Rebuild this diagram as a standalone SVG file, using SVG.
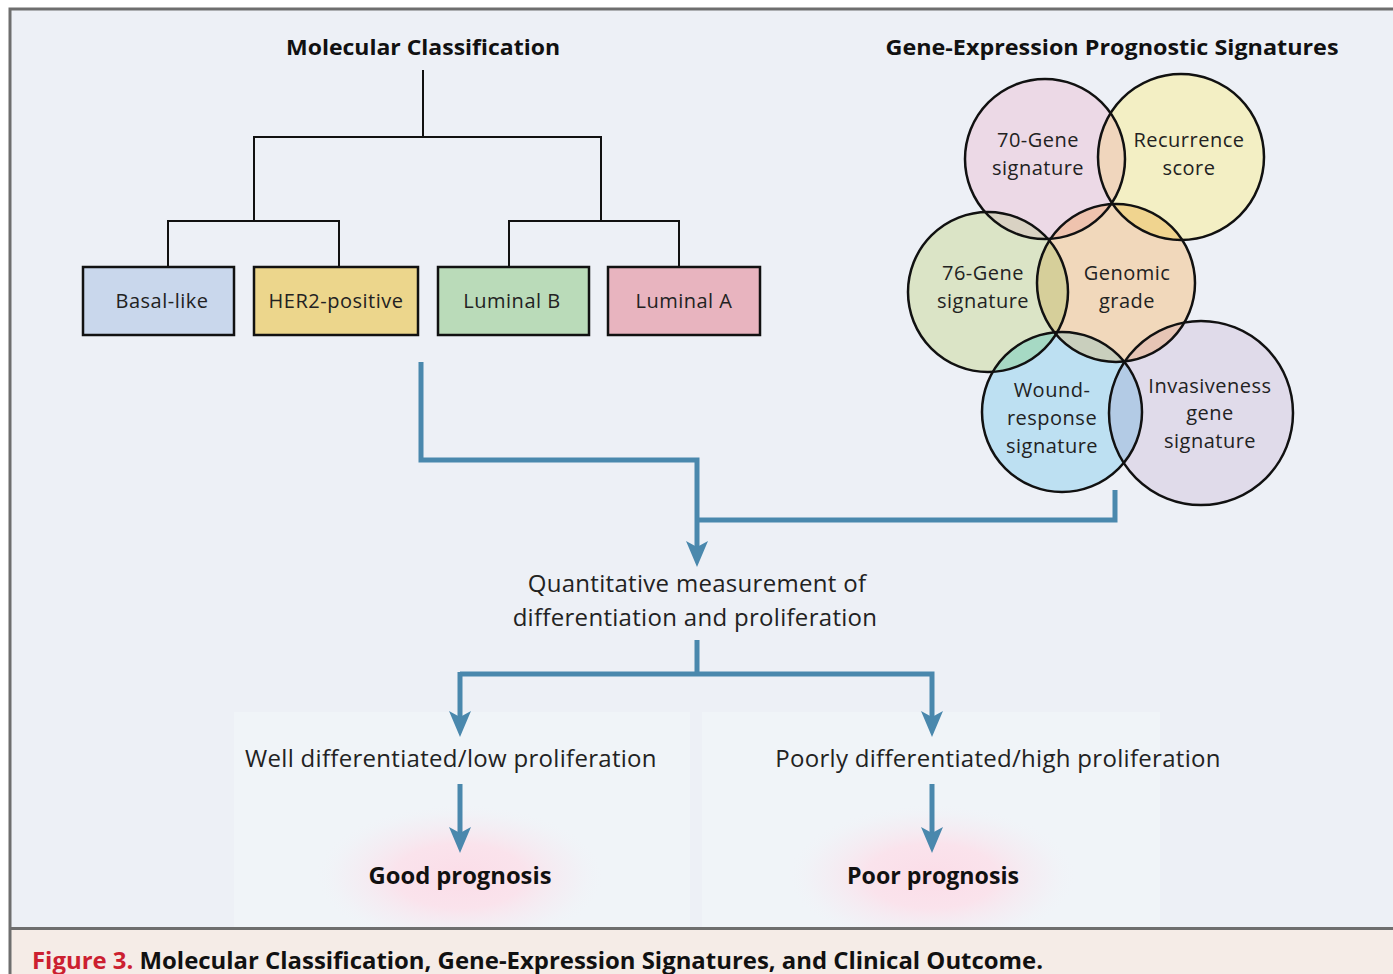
<svg xmlns="http://www.w3.org/2000/svg" width="1393" height="974" viewBox="0 0 1393 974">
<style>
.t{font-family:"Open Sans","DejaVu Sans",sans-serif;font-size:20px;fill:#222;text-anchor:middle;letter-spacing:0.5px}
.m{font-family:"Open Sans","DejaVu Sans",sans-serif;font-size:24px;fill:#222;text-anchor:middle;letter-spacing:0.3px}
.b{font-family:"Open Sans","DejaVu Sans",sans-serif;font-size:22px;font-weight:bold;fill:#111;text-anchor:middle}
.tree{fill:none;stroke:#111;stroke-width:2}
.box{stroke:#111;stroke-width:2.5}
.ring{fill:none;stroke:#111;stroke-width:2.5}
.flow{fill:none;stroke:#4a88ad;stroke-width:5;marker-end:url(#ah)}
.flown{fill:none;stroke:#4a88ad;stroke-width:5}
</style>
<defs>
<marker id="ah" markerUnits="userSpaceOnUse" viewBox="-38 -12 40 24" refX="-13" refY="0" markerWidth="40" markerHeight="24" orient="auto">
<path d="M0,0 L-26,-11 L-20,0 L-26,11 Z" fill="#4a88ad"/>
</marker>
<radialGradient id="glow" cx="50%" cy="50%" r="50%">
<stop offset="0" stop-color="#fbdde8"/>
<stop offset="0.45" stop-color="#fae3ec"/>
<stop offset="0.8" stop-color="#f3eef4" stop-opacity="0.6"/>
<stop offset="1" stop-color="#f0f4f8" stop-opacity="0"/>
</radialGradient>
<clipPath id="c70"><circle cx="1045" cy="159" r="80"/></clipPath>
<clipPath id="crec"><circle cx="1181" cy="157" r="83"/></clipPath>
<clipPath id="c76"><circle cx="988" cy="292" r="80"/></clipPath>
<clipPath id="cgen"><circle cx="1116" cy="283" r="79"/></clipPath>
<clipPath id="cwou"><circle cx="1062" cy="412" r="80"/></clipPath>
</defs>
<rect x="0" y="0" width="1393" height="974" fill="#ffffff"/>
<rect x="10" y="9" width="1400" height="920" fill="#edf0f6"/>
<rect x="234" y="712" width="456" height="215" fill="#f0f4f8"/>
<rect x="702" y="712" width="458" height="215" fill="#f0f4f8"/>
<ellipse cx="460" cy="876" rx="145" ry="72" fill="url(#glow)"/>
<ellipse cx="932" cy="876" rx="145" ry="72" fill="url(#glow)"/>
<rect x="10" y="929" width="1400" height="50" fill="#f5ece7"/>
<path d="M10,974 V9 H1400" fill="none" stroke="#6e6e6e" stroke-width="3"/>
<line x1="10" y1="928.5" x2="1400" y2="928.5" stroke="#6e6e6e" stroke-width="3"/>

<g id="title-molecular"><text class="b" x="423" y="55" textLength="274" lengthAdjust="spacingAndGlyphs">Molecular Classification</text></g>
<g id="title-gene"><text class="b" x="1112" y="55" textLength="453" lengthAdjust="spacingAndGlyphs">Gene-Expression Prognostic Signatures</text></g>

<g id="tree">
<path class="tree" d="M423,70 V137 M254,221 V137 H601 V221 M168,267 V221 H339 V267 M509,267 V221 H679 V267"/>
</g>

<g id="basal"><rect class="box" x="83" y="267" width="151" height="68" fill="#c9d7ec"/><text class="t" x="162" y="308">Basal-like</text></g>
<g id="her2"><rect class="box" x="254" y="267" width="164" height="68" fill="#ecd68c"/><text class="t" x="336" y="308">HER2-positive</text></g>
<g id="luminalb"><rect class="box" x="438" y="267" width="151" height="68" fill="#badbb9"/><text class="t" x="512" y="308">Luminal B</text></g>
<g id="luminala"><rect class="box" x="608" y="267" width="152" height="68" fill="#e8b4bf"/><text class="t" x="684" y="308">Luminal A</text></g>

<g id="venn">
<circle cx="1045" cy="159" r="80" fill="#ecd9e6"/>
<circle cx="1181" cy="157" r="83" fill="#f3efc4"/>
<circle cx="988" cy="292" r="80" fill="#dbe4c6"/>
<circle cx="1116" cy="283" r="79" fill="#f1d8bb"/>
<circle cx="1062" cy="412" r="80" fill="#bde0f2"/>
<circle cx="1201" cy="413" r="92" fill="#e0dbea"/>
<circle cx="1181" cy="157" r="83" fill="#f0d6bd" clip-path="url(#c70)"/>
<circle cx="988" cy="292" r="80" fill="#d9d2c3" clip-path="url(#c70)"/>
<circle cx="1116" cy="283" r="79" fill="#efc3ae" clip-path="url(#c70)"/>
<circle cx="1116" cy="283" r="79" fill="#f0d48f" clip-path="url(#crec)"/>
<circle cx="1116" cy="283" r="79" fill="#d6cf9a" clip-path="url(#c76)"/>
<circle cx="1062" cy="412" r="80" fill="#a6d9c4" clip-path="url(#c76)"/>
<circle cx="1062" cy="412" r="80" fill="#c9cfbd" clip-path="url(#cgen)"/>
<circle cx="1201" cy="413" r="92" fill="#e6c5b5" clip-path="url(#cgen)"/>
<circle cx="1201" cy="413" r="92" fill="#b3cbe5" clip-path="url(#cwou)"/>
</g>
<g id="sig70"><circle class="ring" cx="1045" cy="159" r="80"/><text class="t" x="1038" y="147">70-Gene</text><text class="t" x="1038" y="175">signature</text></g>
<g id="recurrence"><circle class="ring" cx="1181" cy="157" r="83"/><text class="t" x="1189" y="147">Recurrence</text><text class="t" x="1189" y="175">score</text></g>
<g id="sig76"><circle class="ring" cx="988" cy="292" r="80"/><text class="t" x="983" y="280">76-Gene</text><text class="t" x="983" y="308">signature</text></g>
<g id="genomic"><circle class="ring" cx="1116" cy="283" r="79"/><text class="t" x="1127" y="280">Genomic</text><text class="t" x="1127" y="308">grade</text></g>
<g id="wound"><circle class="ring" cx="1062" cy="412" r="80"/><text class="t" x="1052" y="397">Wound-</text><text class="t" x="1052" y="425">response</text><text class="t" x="1052" y="453">signature</text></g>
<g id="invasive"><circle class="ring" cx="1201" cy="413" r="92"/><text class="t" x="1210" y="393">Invasiveness</text><text class="t" x="1210" y="420">gene</text><text class="t" x="1210" y="448">signature</text></g>

<g id="connectors">
<path class="flow" d="M421,362 V460 H697 V554"/>
<path class="flown" d="M1115,490 V520 H697"/>
<path class="flown" d="M697,640 V674"/>
<path class="flow" d="M460,674 H932 V724"/>
<path class="flow" d="M460,672 V724"/>
<path class="flow" d="M460,784 V840"/>
<path class="flow" d="M932,784 V840"/>
</g>

<g id="quant"><text class="m" x="697" y="592">Quantitative measurement of</text><text class="m" x="695" y="626">differentiation and proliferation</text></g>
<g id="well"><text class="m" x="451" y="767">Well differentiated/low proliferation</text></g>
<g id="poorly"><text class="m" x="998" y="767">Poorly differentiated/high proliferation</text></g>
<g id="good"><text class="b" x="460" y="884" style="font-size:24px" textLength="183" lengthAdjust="spacingAndGlyphs">Good prognosis</text></g>
<g id="poor"><text class="b" x="933" y="884" style="font-size:24px" textLength="172" lengthAdjust="spacingAndGlyphs">Poor prognosis</text></g>

<g id="caption"><text x="32" y="969" font-family="'Open Sans','DejaVu Sans',sans-serif" font-size="24" font-weight="bold" textLength="1011" lengthAdjust="spacingAndGlyphs"><tspan fill="#cc2030">Figure 3.</tspan><tspan fill="#111"> Molecular Classification, Gene-Expression Signatures, and Clinical Outcome.</tspan></text></g>
</svg>
